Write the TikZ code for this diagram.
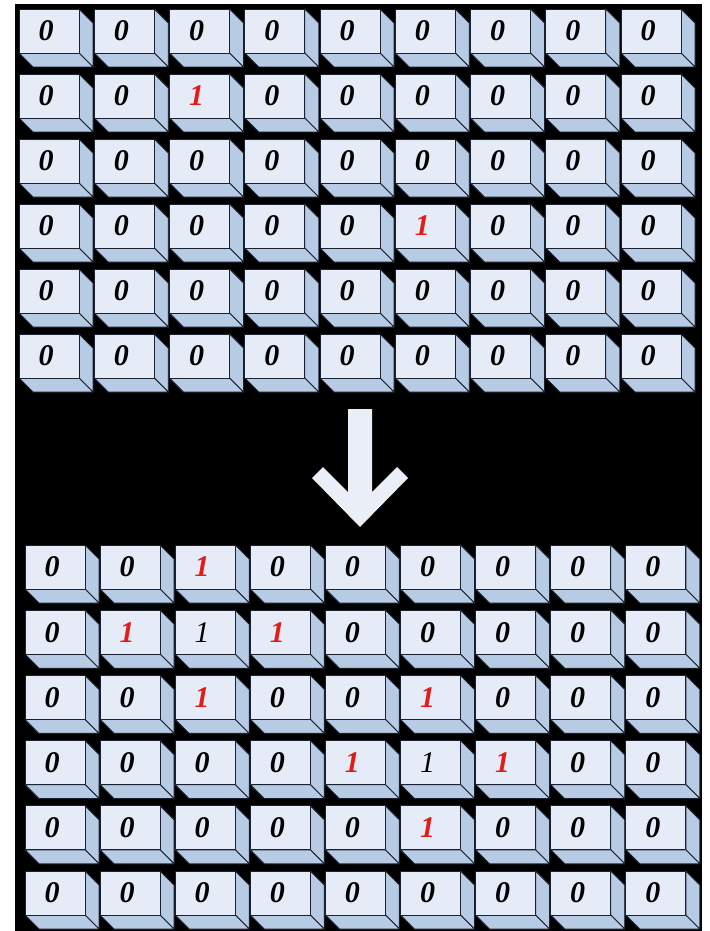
\documentclass[tikz,border=0pt]{standalone}
\usepackage{fontspec}
\setmainfont{Liberation Serif}
\definecolor{frontc}{HTML}{E6ECF7}
\definecolor{sidec}{HTML}{B7CBE4}
\definecolor{edgec}{HTML}{1A2232}
\definecolor{onered}{HTML}{E21B1B}
\definecolor{arrowc}{HTML}{E9EEF7}
\tikzset{
  face/.style={draw=edgec, line width=0.9pt, line join=round},
  digit/.style={font=\fontsize{30}{30}\selectfont\bfseries\itshape, inner sep=0pt, text=black},
  digitred/.style={digit, text=onered},
  digitplain/.style={font=\fontsize{30}{30}\selectfont\itshape, inner sep=0pt, text=black},
}
% #1 x, #2 y (top-left of front face), #3 name, #4 value code
\newcommand\bevcell[4]{%
  \pgfmathsetmacro\cx{#1}\pgfmathsetmacro\cy{#2}%
  \filldraw[face, fill=sidec] (\cx+60,\cy) -- (\cx+74,\cy+14) -- (\cx+74,\cy+58) -- (\cx+60,\cy+44) -- cycle;
  \filldraw[face, fill=sidec] (\cx,\cy+44) -- (\cx+60,\cy+44) -- (\cx+74,\cy+58) -- (\cx+14,\cy+58) -- cycle;
  \filldraw[face, fill=frontc] (\cx,\cy) rectangle (\cx+60,\cy+44);
  \ifcase#4
    \node[digit] (#3) at (\cx+27,\cy+22) {0};
  \or
    \node[digitred] (#3) at (\cx+27,\cy+22) {1};
  \or
    \node[digitplain] (#3) at (\cx+27,\cy+22) {1};
  \fi
}
\begin{document}
\begin{tikzpicture}[x=1pt, y=-1pt]
\useasboundingbox (0,0) rectangle (709,931);
\fill[white] (0,0) rectangle (709,931);
\fill[black] (15,4) rectangle (702,931);
% top grid
\foreach \row [count=\j from 0] in {
  {0,0,0,0,0,0,0,0,0},
  {0,0,1,0,0,0,0,0,0},
  {0,0,0,0,0,0,0,0,0},
  {0,0,0,0,0,1,0,0,0},
  {0,0,0,0,0,0,0,0,0},
  {0,0,0,0,0,0,0,0,0}}{
  \foreach \v [count=\i from 0] in \row {
    \bevcell{19+75.25*\i}{9+65*\j}{t-\j-\i}{\v}
  }
}
% arrow
\fill[arrowc] (348,409) -- (372,409) -- (372,492) -- (397,467) -- (408,478)
  -- (360,527) -- (312,478) -- (323,467) -- (348,492) -- cycle;
% bottom grid
\foreach \row [count=\j from 0] in {
  {0,0,1,0,0,0,0,0,0},
  {0,1,2,1,0,0,0,0,0},
  {0,0,1,0,0,1,0,0,0},
  {0,0,0,0,1,2,1,0,0},
  {0,0,0,0,0,1,0,0,0},
  {0,0,0,0,0,0,0,0,0}}{
  \foreach \v [count=\i from 0] in \row {
    \bevcell{25+75.1*\i}{545+65.2*\j}{b-\j-\i}{\v}
  }
}
\end{tikzpicture}
\end{document}
